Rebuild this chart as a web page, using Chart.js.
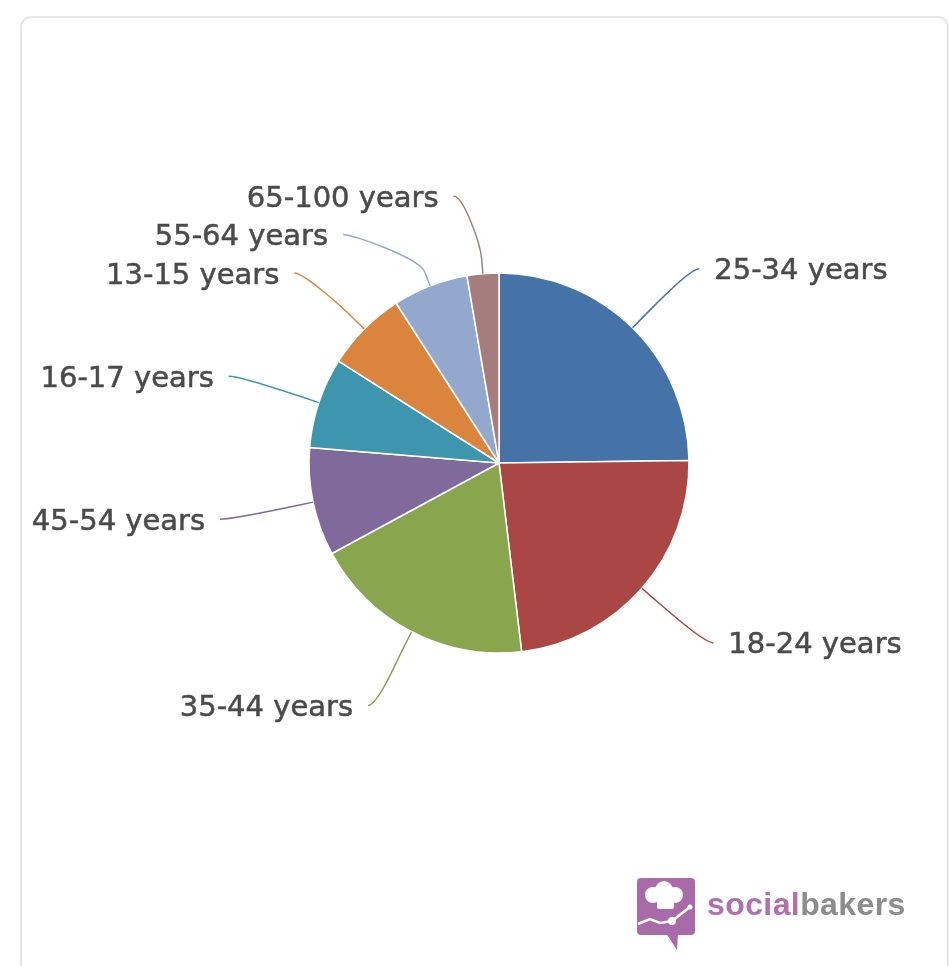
<!DOCTYPE html>
<html>
<head>
<meta charset="utf-8">
<title>Fans by age</title>
<script src="https://cdn.jsdelivr.net/npm/chart.js@4.4.1/dist/chart.umd.min.js"></script>
<style>
  html, body { margin: 0; padding: 0; background: #fff; overflow: hidden; }
  #wrap { position: relative; width: 949px; height: 966px; }
  #card {
    position: absolute; left: 20px; top: 16px; width: 929px; height: 990px;
    border: 2px solid #e6e6e6; border-radius: 11px; box-sizing: border-box;
  }
  #age-chart { position: absolute; left: 0; top: 0; }
  #logo { position: absolute; left: 636px; top: 877px; }
  #logo-text {
    position: absolute; left: 707px; top: 888px;
    font: bold 32px "Liberation Sans", Arial, sans-serif; line-height: 32px;
    letter-spacing: 0.4px; white-space: nowrap;
  }
  #logo-text .social { color: #b06fb0; }
  #logo-text .bakers { color: #8c8c8c; }
</style>
</head>
<body>
<div id="wrap">
  <div id="card"></div>
  <canvas id="age-chart" width="949" height="966"></canvas>
  <svg id="logo" width="62" height="76" viewBox="0 0 62 76">
    <rect x="1" y="1" width="58" height="57" rx="4" fill="#a86aa8"/>
    <polygon points="30,56 42,56 41,73" fill="#a86aa8"/>
    <g fill="#ffffff">
      <circle cx="17" cy="18" r="8"/>
      <circle cx="28" cy="13" r="9"/>
      <circle cx="39" cy="18" r="8"/>
      <circle cx="30" cy="22" r="9"/>
      <rect x="21" y="22" width="17" height="10" rx="2"/>
    </g>
    <polyline points="2,47 14,42 24,46 36,44 54,30" fill="none" stroke="#ffffff" stroke-width="2.5"/>
    <circle cx="36" cy="44" r="4" fill="#ffffff"/>
    <circle cx="54" cy="30" r="2.5" fill="#ffffff"/>
  </svg>
  <div id="logo-text"><span class="social">social</span><span class="bakers">bakers</span></div>
</div>

<script>
// Facebook fans by age group (share of fans, %)
const ageGroups = [
  '25-34 years', '18-24 years', '35-44 years', '45-54 years',
  '16-17 years', '13-15 years', '55-64 years', '65-100 years'
];
const fanShares = [24.8, 23.3, 19.0, 9.2, 7.7, 6.9, 6.4, 2.7];

const sliceColors = [
  '#4572A7', '#AA4643', '#89A54E', '#80699B',
  '#3D96AE', '#DB843D', '#92A8CD', '#A47D7C'
];

// Label layout settings
const LABEL_DX = 95;         // horizontal distance from pie edge to label anchor
const LABEL_DY = 83;         // vertical distance from pie edge to label anchor
const LABEL_GAP = 38.5;      // min vertical spacing between labels on one side
const LABEL_TOP = 196;       // labels are not placed above this line
const CONNECTOR_OFFSET = 15;
const TEXT_PAD = 15;

// Draws outside labels with soft connectors, placed from the arc geometry
const pieLabels = {
  id: 'pieLabels',
  afterDatasetsDraw(chart) {
    const ctx = chart.ctx;
    const meta = chart.getDatasetMeta(0);

    const items = meta.data.map((arc, i) => {
      const p = arc.getProps(['x', 'y', 'startAngle', 'endAngle', 'outerRadius'], true);
      const mid = (p.startAngle + p.endAngle) / 2;
      const Rx = p.outerRadius + LABEL_DX;
      const Ry = p.outerRadius + LABEL_DY;
      return {
        i, p, mid, Rx, Ry,
        right: Math.cos(mid) >= 0,
        naturalY: p.y + Math.sin(mid) * Ry
      };
    });

    // push overlapping labels downwards, side by side
    [true, false].forEach(side => {
      const group = items.filter(it => it.right === side)
        .sort((a, b) => a.naturalY - b.naturalY);
      let prev = -Infinity;
      group.forEach(it => {
        const clamped = it.naturalY < LABEL_TOP;
        it.y = Math.max(it.naturalY, LABEL_TOP, prev + LABEL_GAP);
        prev = it.y;
        const baseY = clamped ? (it.naturalY + it.y) / 2 : it.y;
        const t = Math.max(-1, Math.min(1, (baseY - it.p.y) / it.Ry));
        it.x = it.p.x + (side ? 1 : -1) * it.Rx * Math.sqrt(1 - t * t);
      });
    });

    ctx.save();
    items.forEach(it => {
      const { p, mid } = it;
      const r = p.outerRadius;
      const edgeX = p.x + Math.cos(mid) * r;
      const edgeY = p.y + Math.sin(mid) * r;
      const bx = p.x + Math.cos(mid) * (r + CONNECTOR_OFFSET);
      const by = p.y + Math.sin(mid) * (r + CONNECTOR_OFFSET);
      const dir = it.right ? -1 : 1;

      ctx.beginPath();
      ctx.moveTo(it.x, it.y);
      ctx.bezierCurveTo(it.x + dir * 10, it.y, 2 * bx - edgeX, 2 * by - edgeY, bx, by);
      ctx.lineTo(edgeX, edgeY);
      ctx.strokeStyle = sliceColors[it.i];
      ctx.lineWidth = 1.5;
      ctx.stroke();

      const tx = it.x + (it.right ? TEXT_PAD : -TEXT_PAD);
      ctx.font = '29px "DejaVu Sans", Verdana, sans-serif';
      ctx.fillStyle = '#4a4a4a';
      ctx.strokeStyle = '#4a4a4a';
      ctx.lineWidth = 0.5;
      ctx.textBaseline = 'middle';
      ctx.textAlign = it.right ? 'left' : 'right';
      ctx.fillText(chart.data.labels[it.i], tx, it.y + 3);
      ctx.strokeText(chart.data.labels[it.i], tx, it.y + 3);
    });
    ctx.restore();
  }
};

const ctx = document.getElementById('age-chart').getContext('2d');

new Chart(ctx, {
  type: 'pie',
  data: {
    labels: ageGroups,
    datasets: [{
      data: fanShares,
      backgroundColor: sliceColors,
      borderColor: '#ffffff',
      borderWidth: 1.5,
      radius: 190
    }]
  },
  options: {
    responsive: false,
    animation: false,
    devicePixelRatio: 1,
    layout: {
      padding: { left: 49, right: 0, top: 0, bottom: 40 }
    },
    plugins: {
      legend: { display: false },
      tooltip: { enabled: false }
    }
  },
  plugins: [pieLabels]
});
</script>
</body>
</html>
